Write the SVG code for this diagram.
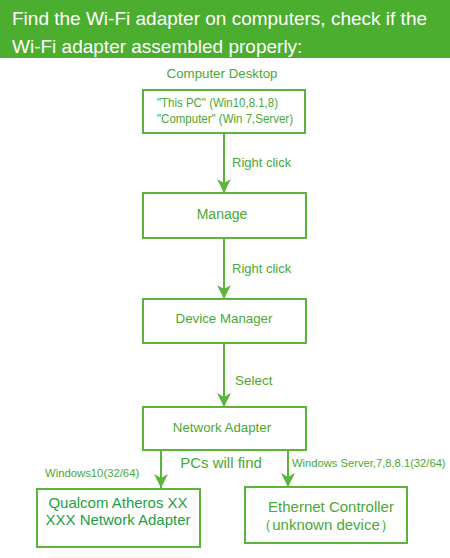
<svg xmlns="http://www.w3.org/2000/svg" width="450" height="558" viewBox="0 0 450 558">
<defs>
<style>
.box{fill:#ffffff;stroke:#5cb43c;stroke-width:2}
.line{stroke:#5cb43c;stroke-width:2;fill:none}
.t{font-family:"Liberation Sans",Arial,sans-serif;fill:#4aa833}
.c{text-anchor:middle}
.h{font-family:"Liberation Sans",Arial,sans-serif;fill:#ffffff;font-size:19px}
.d{font-family:"Liberation Sans",Arial,sans-serif;fill:#23a043}
</style>
<marker id="ah" markerWidth="16" markerHeight="16" refX="14" refY="8" orient="auto" markerUnits="userSpaceOnUse">
<path d="M0,1 L14,8 L0,15 L4,8 Z" fill="#5cb43c"/>
</marker>
</defs>
<rect width="450" height="558" fill="#ffffff"/>
<g id="header">
<rect x="0" y="0" width="450" height="58" fill="#4cae2f"/>
<text class="h" x="12" y="25">Find the Wi-Fi adapter on computers, check if the</text>
<text class="h" x="12" y="53">Wi-Fi adapter assembled properly:</text>
</g>
<g id="connectors">
<line class="line" x1="224" y1="134" x2="224" y2="193" marker-end="url(#ah)"/>
<line class="line" x1="224" y1="239" x2="224" y2="299" marker-end="url(#ah)"/>
<line class="line" x1="224" y1="344" x2="224" y2="407" marker-end="url(#ah)"/>
<line class="line" x1="161" y1="450" x2="161" y2="488" marker-end="url(#ah)"/>
<line class="line" x1="288" y1="450" x2="288" y2="487" marker-end="url(#ah)"/>
<text class="t" x="232" y="167" font-size="13">Right click</text>
<text class="t" x="232" y="273" font-size="13">Right click</text>
<text class="t" x="235" y="385" font-size="13.5">Select</text>
<text class="t" x="45" y="477" font-size="11.3">Windows10(32/64)</text>
<text class="t" x="221" y="468" font-size="15" text-anchor="middle">PCs will find</text>
<text class="t" x="292" y="467" font-size="11.2">Windows Server,7,8,8.1(32/64)</text>
</g>
<g id="desktop">
<text class="t c" x="222" y="78" font-size="13.3">Computer Desktop</text>
<rect class="box" x="143" y="90" width="162" height="43"/>
<text class="t" x="157" y="107" font-size="12.8" textLength="121" lengthAdjust="spacingAndGlyphs">"This PC" (Win10,8.1,8)</text>
<text class="t" x="157" y="123" font-size="12.8" textLength="136" lengthAdjust="spacingAndGlyphs">"Computer" (Win 7,Server)</text>
</g>
<g id="manage">
<rect class="box" x="143" y="193" width="163" height="45"/>
<text class="t c" x="222" y="219" font-size="14">Manage</text>
</g>
<g id="device-manager">
<rect class="box" x="143" y="299" width="163" height="44"/>
<text class="t c" x="224" y="323" font-size="13.3">Device Manager</text>
</g>
<g id="network-adapter">
<rect class="box" x="143" y="407" width="163" height="43"/>
<text class="t c" x="222" y="432" font-size="13.3">Network Adapter</text>
</g>
<g id="qualcom">
<rect class="box" x="37" y="489" width="163" height="58"/>
<text class="d c" x="118" y="508" font-size="15">Qualcom Atheros XX</text>
<text class="d c" x="118" y="525" font-size="15">XXX Network Adapter</text>
</g>
<g id="ethernet">
<rect class="box" x="245" y="487" width="162" height="56"/>
<text class="t c" x="331" y="512" font-size="15">Ethernet Controller</text>
<text class="t c" x="326" y="530" font-size="15">（unknown device）</text>
</g>
</svg>
